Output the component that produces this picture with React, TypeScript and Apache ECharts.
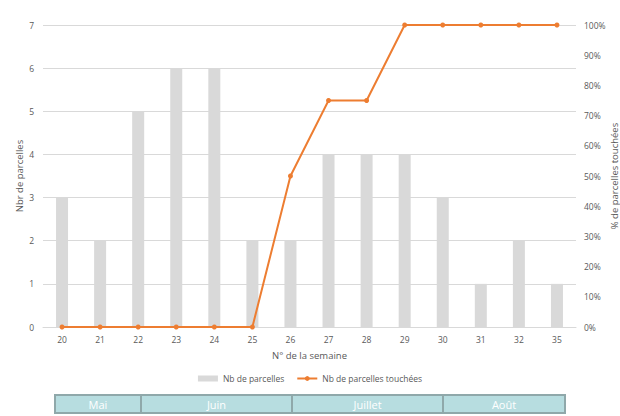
import React, { useEffect, useRef } from "react";
import * as echarts from "echarts";

const weeks = ["20", "21", "22", "23", "24", "25", "26", "27", "28", "29", "30", "31", "32", "35"];
const nbParcelles = [3, 2, 5, 6, 6, 2, 2, 4, 4, 4, 3, 1, 2, 1];
const pctTouchees = [0, 0, 0, 0, 0, 0, 0.5, 0.75, 0.75, 1, 1, 1, 1, 1];
const months = ["Mai", "Juin", "Juillet", "Août"];

const FONT = "'Open Sans', 'Noto Sans', sans-serif";

export default function App() {
  const ref = useRef<HTMLDivElement>(null);
  useEffect(() => {
    if (!ref.current) return;
    const chart = echarts.init(ref.current, null, { renderer: "svg" });
    const monthEdges = [55, 141, 292, 443, 565];
    const monthGraphics: any[] = [];
    months.forEach((m, i) => {
      const x0 = monthEdges[i];
      const x1 = monthEdges[i + 1];
      monthGraphics.push({
        type: "rect",
        shape: { x: x0, y: 395, width: x1 - x0, height: 18 },
        style: { fill: "#b7dde0", stroke: "#8fa8aa", lineWidth: 2 },
      });
      monthGraphics.push({
        type: "text",
        x: (x0 + x1) / 2,
        y: 404,
        style: {
          text: m,
          fill: "#ffffff",
          font: `11px ${FONT}`,
          align: "center",
          verticalAlign: "middle",
        },
      });
    });
    chart.setOption({
      animation: false,
      textStyle: { fontFamily: FONT },
      grid: { left: 43, right: 44, top: 25, bottom: 89, outerBoundsMode: "none", containLabel: false },
      legend: {
        bottom: 28,
        left: "center",
        itemWidth: 20,
        itemHeight: 6,
        itemGap: 12,
        textStyle: { fontSize: 8.5, color: "#595959", fontFamily: FONT },
        data: [
          { name: "Nb de parcelles", icon: "rect" },
          { name: "Nb de parcelles touchées" },
        ],
      },
      xAxis: {
        type: "category",
        data: weeks,
        name: "N° de la semaine",
        nameLocation: "middle",
        nameGap: 23,
        nameMoveOverlap: false,
        nameTextStyle: { fontSize: 9.5, color: "#595959" },
        axisLine: { lineStyle: { color: "#d9d9d9" } },
        axisTick: { show: false },
        axisLabel: { fontSize: 8.5, color: "#595959", margin: 8 },
      },
      yAxis: [
        {
          type: "value",
          min: 0,
          max: 7,
          interval: 1,
          name: "Nbr de parcelles",
          nameLocation: "middle",
          nameGap: 19,
          nameMoveOverlap: false,
          nameTextStyle: { fontSize: 9.5, color: "#595959" },
          axisLabel: { fontSize: 8.5, color: "#595959", margin: 9 },
          axisLine: { show: false },
          axisTick: { show: false },
          splitLine: { lineStyle: { color: "#d9d9d9" } },
        },
        {
          type: "value",
          min: 0,
          max: 1,
          interval: 0.1,
          name: "% de parcelles touchées",
          nameLocation: "middle",
          nameGap: 33,
          nameRotate: 90,
          nameMoveOverlap: false,
          nameTextStyle: { fontSize: 9.5, color: "#595959" },
          axisLabel: {
            fontSize: 8.5,
            color: "#595959",
            margin: 8,
            formatter: (v: number) => `${Math.round(v * 100)}%`,
          },
          axisLine: { show: false },
          axisTick: { show: false },
          splitLine: { show: false },
        },
      ],
      series: [
        {
          name: "Nb de parcelles",
          type: "bar",
          data: nbParcelles,
          barWidth: 12,
          itemStyle: { color: "#d9d9d9" },
          yAxisIndex: 0,
        },
        {
          name: "Nb de parcelles touchées",
          type: "line",
          data: pctTouchees,
          yAxisIndex: 1,
          symbol: "circle",
          symbolSize: 5,
          lineStyle: { color: "#ed7d31", width: 2 },
          itemStyle: { color: "#ed7d31" },
        },
      ],
      graphic: monthGraphics,
    });
    return () => chart.dispose();
  }, []);
  return <div ref={ref} style={{ width: 620, height: 416, position: "absolute", left: 0, top: 0 }} />;
}
